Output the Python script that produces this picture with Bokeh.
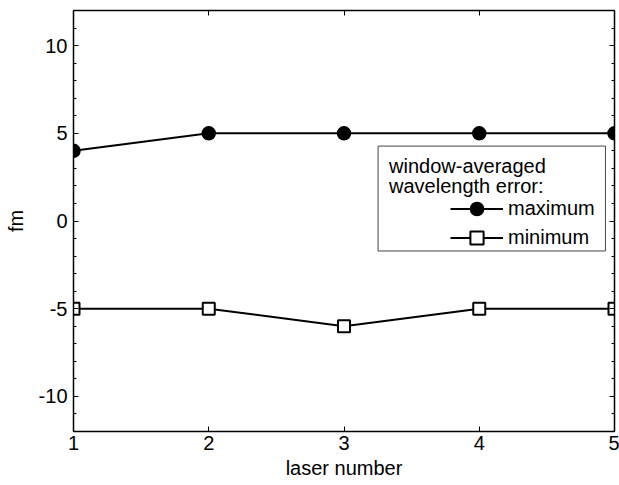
from bokeh.plotting import figure
from bokeh.models import (LinearAxis, FixedTicker, Range1d, Legend, LegendItem,
                          BoxAnnotation, Label)
from bokeh.embed import file_html
from bokeh.resources import INLINE

# ---- data ----
laser = [1, 2, 3, 4, 5]
err_max = [4, 5, 5, 5, 5]
err_min = [-5, -5, -6, -5, -5]
x_ticks = [1, 2, 3, 4, 5]
y_ticks = [-10, -5, 0, 5, 10]
y_tick_labels = ["-10", "-5", "0", "5", "10"]
y_minor = list(range(-12, 13))
legend_title = ["window-averaged", "wavelength error:"]
series_labels = ["maximum", "minimum"]

FONT = "Liberation Sans"
FS = "20px"

p = figure(width=619, height=485, output_backend="svg",
           toolbar_location=None, x_axis_type=None, y_axis_type=None,
           min_border_left=73, min_border_right=5, min_border_top=10,
           min_border_bottom=54)
p.x_range = Range1d(1, 5)
p.y_range = Range1d(-12, 12)
p.xgrid.visible = False
p.ygrid.visible = False
p.outline_line_color = None
p.background_fill_color = "white"
p.border_fill_color = "white"

xt = FixedTicker(ticks=x_ticks, minor_ticks=[])
yt = FixedTicker(ticks=y_ticks, minor_ticks=y_minor)


def style(ax, ticks, labels=None):
    ax.axis_line_color = "black"
    ax.axis_line_width = 1.5
    ax.major_tick_line_color = "black"
    ax.minor_tick_line_color = "black"
    ax.major_tick_in = 5
    ax.major_tick_out = 0
    ax.minor_tick_in = 3
    ax.minor_tick_out = 0
    ax.major_label_text_font = FONT
    ax.major_label_text_color = "black"
    if labels is None:
        ax.major_label_overrides = {t: "" for t in ticks}
        ax.major_label_text_font_size = "1px"
        ax.major_label_standoff = 0
        ax.axis_label_standoff = 0
    else:
        ax.major_label_overrides = {t: s for t, s in zip(ticks, labels)}
        ax.major_label_text_font_size = FS
        ax.major_label_standoff = 6
    ax.axis_label_text_font = FONT
    ax.axis_label_text_font_size = FS
    ax.axis_label_text_font_style = "normal"
    ax.axis_label_text_color = "black"


xb = LinearAxis(ticker=xt, axis_label="laser number")
style(xb, x_ticks, [str(v) for v in x_ticks])
xb.major_label_standoff = 4
xb.axis_label_standoff = 4
p.add_layout(xb, "below")
yl = LinearAxis(ticker=yt, axis_label="fm")
style(yl, y_ticks, y_tick_labels)
yl.axis_label_standoff = 9
p.add_layout(yl, "left")
xa = LinearAxis(ticker=xt)
style(xa, x_ticks)
p.add_layout(xa, "above")
yr = LinearAxis(ticker=yt)
style(yr, y_ticks)
p.add_layout(yr, "right")

l1 = p.line(laser, err_max, line_color="black", line_width=2)
s1 = p.scatter(laser, err_max, marker="circle", size=13, fill_color="black",
               line_color="black", line_width=1.5)
l2 = p.line(laser, err_min, line_color="black", line_width=2)
s2 = p.scatter(laser, err_min, marker="square", size=12, fill_color="white",
               line_color="black", line_width=2)

# legend box and title
box = BoxAnnotation(left=3.252, right=4.933, top=4.27, bottom=-1.71,
                    fill_color="white", fill_alpha=1.0,
                    line_color="#444444", line_width=1, line_alpha=1.0)
p.add_layout(box)
for txt, yy in zip(legend_title, [3.134, 1.994]):
    p.add_layout(Label(x=3.333, y=yy, text=txt, text_font=FONT,
                       text_font_size=FS, text_baseline="middle",
                       text_color="black"))

for lab, rends, loc in [(series_labels[0], [l1, s1], (377, 206.5)),
                        (series_labels[1], [l2, s2], (377, 177.5))]:
    lg = Legend(items=[LegendItem(label=lab, renderers=rends)], location=loc,
                glyph_width=53, glyph_height=33, label_height=33,
                label_standoff=5, padding=0, margin=0, spacing=0,
                border_line_alpha=0, background_fill_alpha=0,
                label_text_font=FONT, label_text_font_size=FS,
                label_text_color="black")
    p.add_layout(lg)

open("out.html", "w").write(file_html(p, INLINE))
